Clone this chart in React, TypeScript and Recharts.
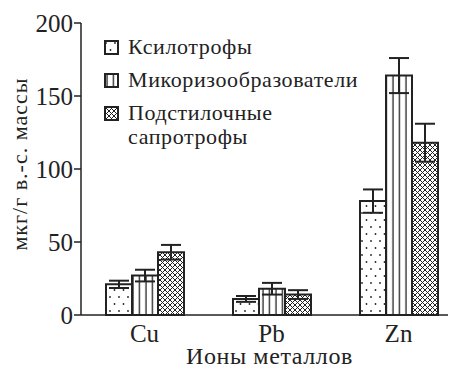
import React from "react";
import { BarChart, Bar, XAxis, YAxis, ErrorBar } from "recharts";

const metals = ["Cu", "Pb", "Zn"];
const xylo = [21, 11, 78];
const xyloErr = [2.5, 2, 8];
const myco = [27, 18, 164];
const mycoErr = [4, 4, 12];
const litter = [43, 14, 118];
const litterErr = [5, 3, 13];
const yTicks = [0, 50, 100, 150, 200];

const data = metals.map((m, i) => ({
  metal: m,
  xylo: xylo[i],
  xyloErr: xyloErr[i],
  myco: myco[i],
  mycoErr: mycoErr[i],
  litter: litter[i],
  litterErr: litterErr[i],
}));

const serif = "'Times New Roman', 'Liberation Serif', Tinos, serif";
const ink = "#222";

function LegendBox({ kind }: { kind: string }) {
  return (
    <svg width={15} height={15} style={{ display: "block" }}>
      <rect x={1} y={1} width={13} height={13} fill={`url(#${kind})`} stroke={ink} strokeWidth={2} />
    </svg>
  );
}

function ChartLegend() {
  const items = [
    { kind: "pDots", label: ["Ксилотрофы"] },
    { kind: "pLines", label: ["Микоризообразователи"] },
    { kind: "pHatch", label: ["Подстилочные", "сапротрофы"] },
  ];
  return (
    <div
      style={{
        position: "absolute",
        left: 104,
        top: 35,
        fontFamily: serif,
        fontSize: 22,
        letterSpacing: 0.6,
        color: ink,
        lineHeight: "24px",
      }}
    >
      {items.map((it) => (
        <div key={it.kind} style={{ display: "flex", alignItems: "flex-start", marginBottom: 9 }}>
          <div style={{ marginTop: 5, marginRight: 9 }}>
            <LegendBox kind={it.kind} />
          </div>
          <div>
            {it.label.map((l) => (
              <div key={l}>{l}</div>
            ))}
          </div>
        </div>
      ))}
    </div>
  );
}

function YLabel() {
  return (
    <text
      x={19}
      y={164}
      transform="rotate(-90, 19, 164)"
      textAnchor="middle"
      dominantBaseline="central"
      fill={ink}
      fontSize={22}
      letterSpacing={1}
      fontFamily={serif}
      style={{ fontFamily: serif }}
    >
      мкг/г в.-с. массы
    </text>
  );
}

export default function App() {
  return (
    <div style={{ margin: -8, width: 456, height: 374, overflow: "hidden", background: "#fff", position: "relative", fontFamily: serif }}>
      <BarChart
        width={462}
        height={374}
        data={data}
        margin={{ top: 23, right: 0, left: 0, bottom: 0 }}
        barSize={26}
        barGap={0}
        style={{ fontFamily: serif }}
      >
        <defs>
          <pattern id="pDots" patternUnits="userSpaceOnUse" width={9} height={14}>
            <rect width={9} height={14} fill="#fff" />
            <circle cx={2} cy={3} r={0.9} fill={ink} />
            <circle cx={6.5} cy={10} r={0.9} fill={ink} />
          </pattern>
          <pattern id="pLines" patternUnits="userSpaceOnUse" width={6.5} height={10}>
            <rect width={6.5} height={10} fill="#fff" />
            <line x1={3} y1={0} x2={3} y2={10} stroke={ink} strokeWidth={1.3} />
          </pattern>
          <pattern id="pHatch" patternUnits="userSpaceOnUse" width={5} height={5}>
            <rect width={5} height={5} fill="#fff" />
            <path d="M0,0 L5,5 M5,0 L0,5" stroke={ink} strokeWidth={1} />
          </pattern>
        </defs>
        <XAxis
          dataKey="metal"
          height={59}
          tickLine={false}
          axisLine={{ stroke: ink, strokeWidth: 1.5 }}
          tick={{ fill: ink, fontSize: 25, fontFamily: serif, style: { fontFamily: serif } }}
          tickMargin={3}
          label={{
            value: "Ионы металлов",
            position: "insideBottom",
            offset: 10,
            dx: -2,
            style: { fill: ink, fontSize: 24, fontFamily: serif, letterSpacing: 0.6 },
          }}
        />
        <YAxis
          width={81}
          domain={[0, 200]}
          ticks={yTicks}
          interval={0}
          tickSize={7}
          tickMargin={1}
          axisLine={{ stroke: ink, strokeWidth: 1.5 }}
          tickLine={{ stroke: ink, strokeWidth: 1.5 }}
          tick={{ fill: ink, fontSize: 25, fontFamily: serif, style: { fontFamily: serif } }}
          label={{ content: () => <YLabel /> }}
        />
        <Bar dataKey="xylo" fill="url(#pDots)" stroke={ink} strokeWidth={2} isAnimationActive={false}>
          <ErrorBar dataKey="xyloErr" width={10} stroke={ink} strokeWidth={2} />
        </Bar>
        <Bar dataKey="myco" fill="url(#pLines)" stroke={ink} strokeWidth={2} isAnimationActive={false}>
          <ErrorBar dataKey="mycoErr" width={10} stroke={ink} strokeWidth={2} />
        </Bar>
        <Bar dataKey="litter" fill="url(#pHatch)" stroke={ink} strokeWidth={2} isAnimationActive={false}>
          <ErrorBar dataKey="litterErr" width={10} stroke={ink} strokeWidth={2} />
        </Bar>
      </BarChart>
      <ChartLegend />
    </div>
  );
}
